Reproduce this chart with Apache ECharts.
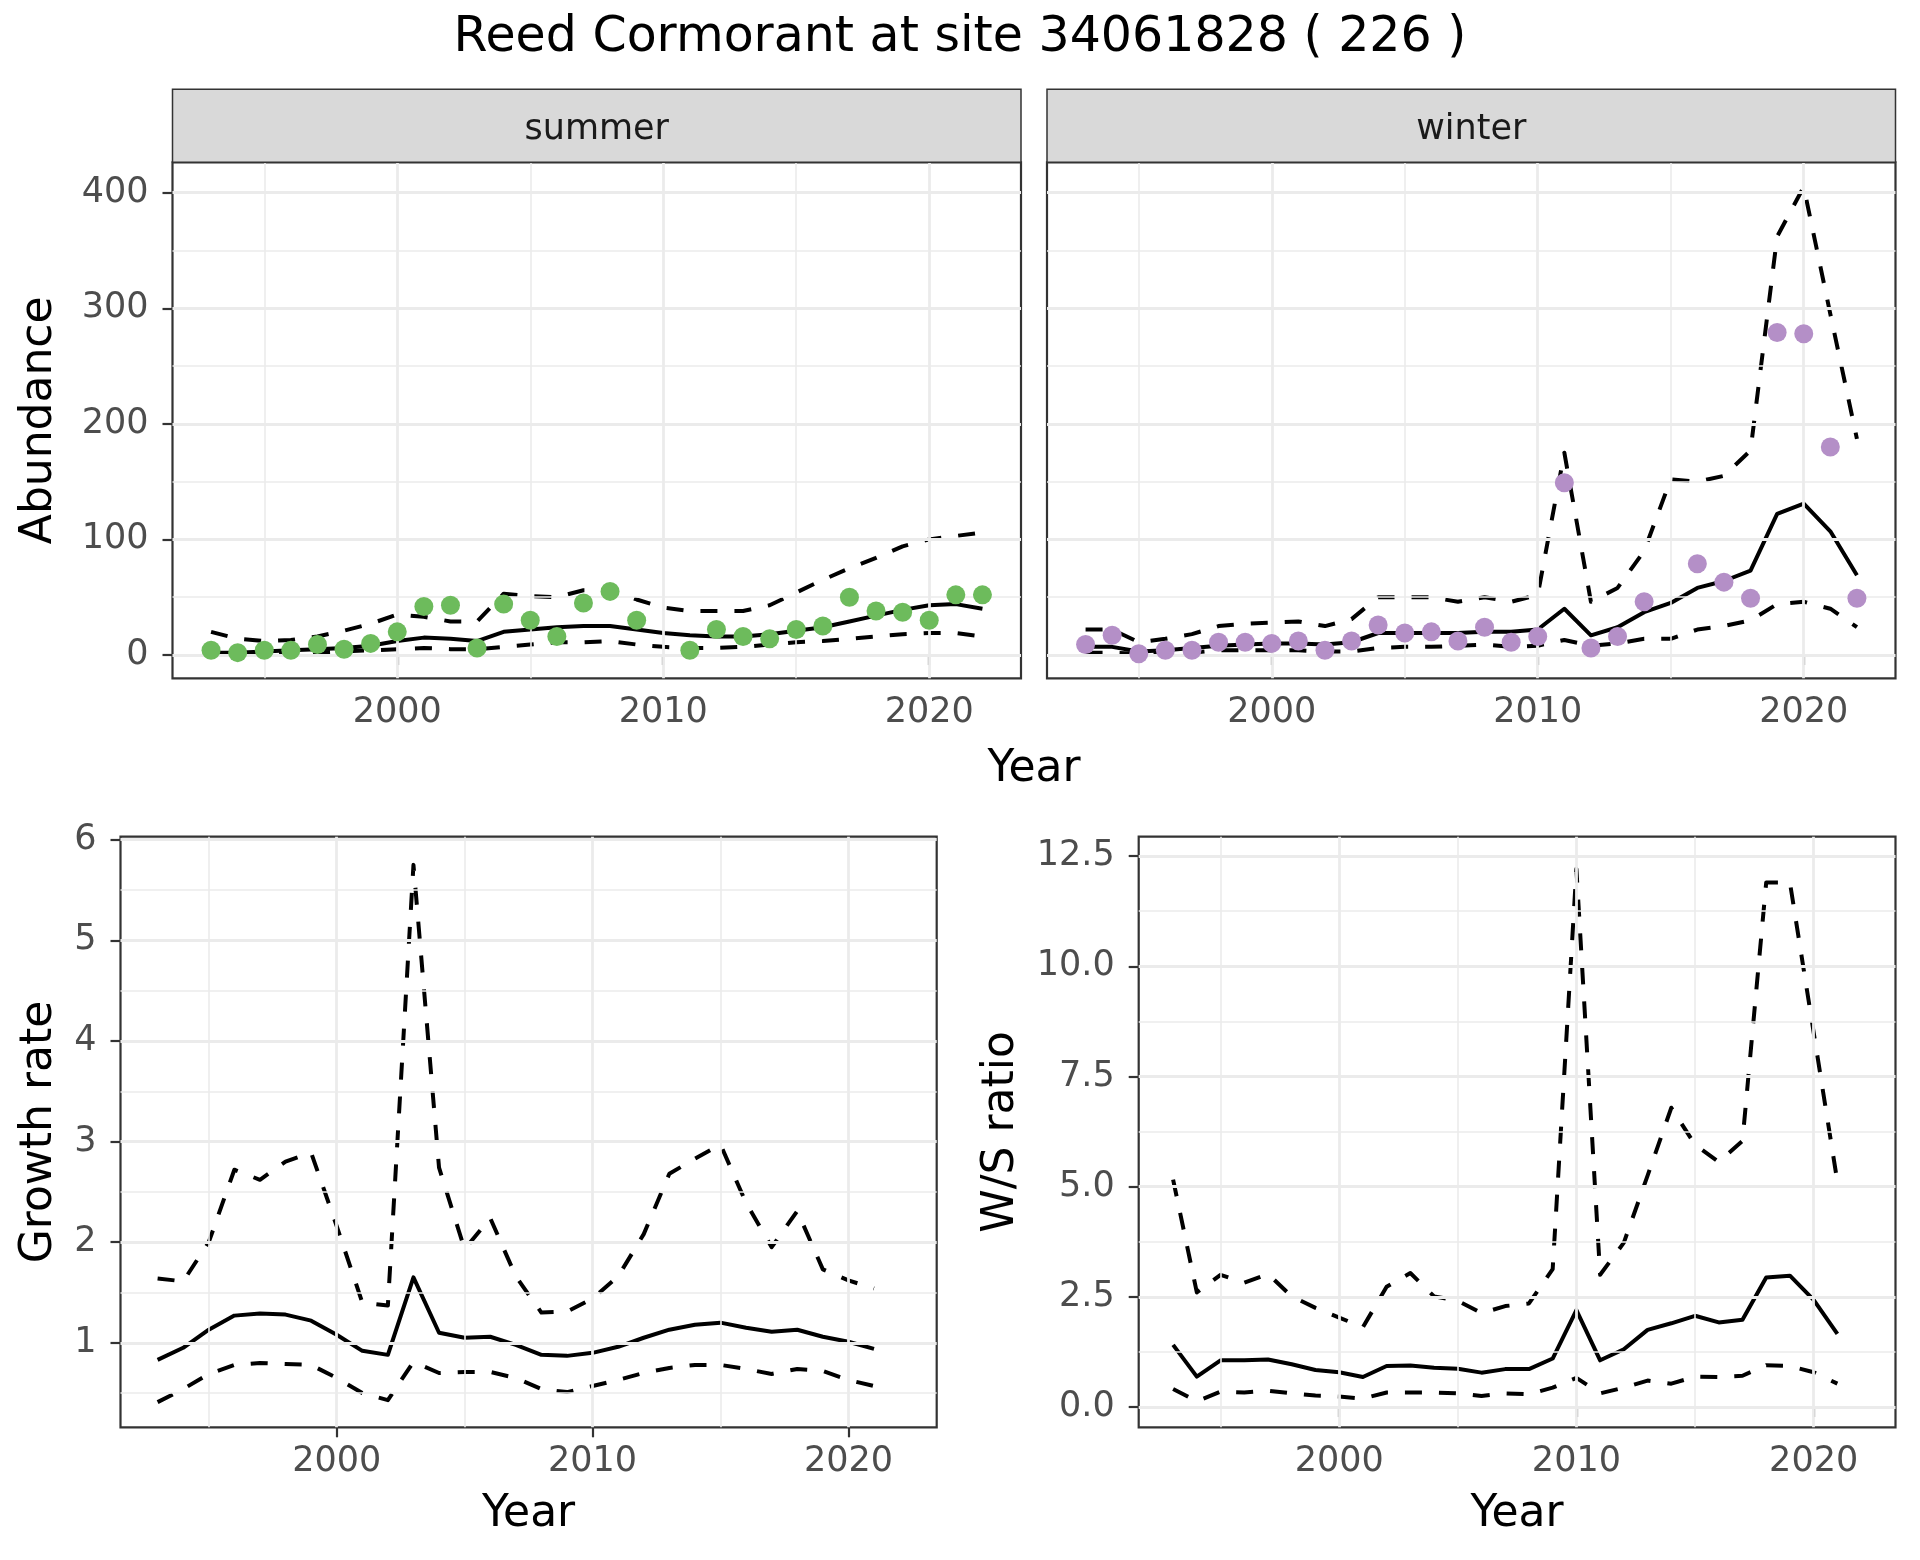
<!DOCTYPE html>
<html>
<head>
<meta charset="utf-8">
<script src="https://cdn.jsdelivr.net/npm/echarts@6/dist/echarts.min.js"></script>
<style>html,body{margin:0;padding:0;background:#fff}#c{width:1920px;height:1560px}</style>
</head>
<body>
<div id="c"></div>
<script>
// ---------- data ----------
const years = [1993,1994,1995,1996,1997,1998,1999,2000,2001,2002,2003,2004,2005,2006,2007,2008,2009,2010,2011,2012,2013,2014,2015,2016,2017,2018,2019,2020,2021,2022];
const summerObs = [4,2,4,4,9,5,10,20,42,43,6,44,30,16,45,55,30,null,4,22,16,14,22,25,50,38,37,30,52,52];
const summerFit = [2,2,3,4,5,6,8,12,15,14,12,20,22,24,25,25,22,19,17,16,16,18,21,24,29,34,39,43,44,40];
const summerUpper = [20,14,12,13,16,21,27,35,33,29,29,53,51,50,56,56,48,41,38,38,38,43,54,65,75,84,94,100,103,106];
const summerLower = [1,1,1,2,2,3,4,5,6,5,5,7,9,11,11,12,9,7,6,6,7,9,11,12,14,16,18,19,19,16];
const winterObs = [9,17,1,4,4,11,11,10,12,4,12,26,19,20,12,24,11,16,149,6,16,46,null,79,63,49,279,278,180,49];
const winterFit = [7,7,3,4,6,8,9,10,10,9,11,19,19,19,19,20,20,22,40,17,24,37,45,58,64,73,122,131,107,69];
const winterUpper = [22,22,11,14,18,25,27,28,29,25,31,50,50,50,46,50,46,52,175,46,58,90,152,150,155,177,362,405,295,187];
const winterLower = [2,2,1,2,2,4,4,4,4,3,3,6,7,7,8,9,7,8,13,8,10,14,14,22,25,30,44,46,40,24];

const rateYears = [1993,1994,1995,1996,1997,1998,1999,2000,2001,2002,2003,2004,2005,2006,2007,2008,2009,2010,2011,2012,2013,2014,2015,2016,2017,2018,2019,2020,2021];
const growthFit = [0.83,0.95,1.13,1.27,1.29,1.28,1.22,1.08,0.92,0.88,1.65,1.10,1.05,1.06,0.98,0.88,0.87,0.90,0.96,1.05,1.13,1.18,1.20,1.15,1.11,1.13,1.06,1.01,0.94];
const growthUpper = [1.64,1.61,2.00,2.72,2.62,2.80,2.89,2.16,1.40,1.37,5.75,2.74,1.93,2.24,1.66,1.30,1.31,1.44,1.66,2.08,2.68,2.83,2.97,2.39,1.95,2.31,1.73,1.62,1.54];
const growthLower = [0.41,0.54,0.69,0.78,0.80,0.79,0.78,0.65,0.50,0.43,0.81,0.70,0.71,0.71,0.65,0.54,0.51,0.57,0.63,0.70,0.75,0.78,0.78,0.74,0.69,0.74,0.72,0.63,0.57];
const wsFit = [1.41,0.69,1.06,1.06,1.08,0.97,0.84,0.79,0.68,0.93,0.94,0.89,0.87,0.78,0.86,0.86,1.10,2.20,1.06,1.31,1.75,1.90,2.07,1.92,1.98,2.94,2.98,2.43,1.66];
const wsUpper = [5.16,2.60,3.00,2.82,3.02,2.51,2.25,2.03,1.81,2.73,3.04,2.51,2.41,2.13,2.29,2.35,3.13,12.21,3.00,3.73,5.25,6.79,5.95,5.56,6.04,11.90,11.90,8.50,5.11];
const wsLower = [0.41,0.13,0.35,0.33,0.37,0.31,0.26,0.24,0.19,0.33,0.33,0.33,0.31,0.25,0.31,0.29,0.44,0.66,0.31,0.44,0.60,0.53,0.69,0.68,0.71,0.95,0.93,0.79,0.53];

// ticks / breaks
const yearTicks = [2000,2010,2020];
const yearMinor = [1995,2005,2015];
const abundTicks = [0,100,200,300,400];
const abundMinor = [50,150,250,350];
const growthTicks = [1,2,3,4,5,6];
const growthMinor = [0.5,1.5,2.5,3.5,4.5,5.5];
const wsTicks = [0,2.5,5,7.5,10,12.5];
const wsMinor = [1.25,3.75,6.25,8.75,11.25];

const titleText = 'Reed Cormorant at site 34061828 ( 226 )';
const seasons = ['summer','winter'];

// ---------- styling ----------
const FONT = 'DejaVu Sans';
const GRIDC = '#EBEBEB';
const BORDER = '#333333';
const xRange = [1991.55, 2023.45];
const abundRange = [-20.2, 426.3];
const growthRange = [0.16, 6.03];
const wsRange = [-0.46, 12.94];

const grids = [
  {left:172.5, top:162.3, width:848.5, height:516},
  {left:1047, top:162.3, width:848.5, height:516},
  {left:120.5, top:836.7, width:816.2, height:590.6},
  {left:1138.7, top:836.7, width:756.8, height:590.6}
];

function xAxisDef(gi){
  return {type:'value', gridIndex:gi, min:xRange[0], max:xRange[1],
    axisLine:{show:false},
    axisTick:{show:true, customValues:yearTicks, length:10, lineStyle:{color:BORDER, width:2.2}},
    axisLabel:{show:true, customValues:yearTicks, margin:17, fontSize:35, color:'#4D4D4D', fontFamily:FONT, formatter:v=>String(v)},
    splitLine:{show:false}, minorSplitLine:{show:false}};
}
function yAxisDef(gi, range, ticks, showLab, fmt){
  return {type:'value', gridIndex:gi, min:range[0], max:range[1],
    axisLine:{show:false},
    axisTick:{show:showLab, customValues:ticks, length:10, lineStyle:{color:BORDER, width:2.2}},
    axisLabel:{show:showLab, customValues:ticks, margin:24, fontSize:35, color:'#4D4D4D', fontFamily:FONT, formatter:fmt},
    splitLine:{show:false}};
}
function gridLines(gi, yMaj, yMin){
  const d = [];
  yearMinor.forEach(v=>d.push({xAxis:v, lineStyle:{color:GRIDC, width:1.6, type:'solid'}}));
  yMin.forEach(v=>d.push({yAxis:v, lineStyle:{color:GRIDC, width:1.6, type:'solid'}}));
  yearTicks.forEach(v=>d.push({xAxis:v, lineStyle:{color:GRIDC, width:2.8, type:'solid'}}));
  yMaj.forEach(v=>d.push({yAxis:v, lineStyle:{color:GRIDC, width:2.8, type:'solid'}}));
  return {type:'line', xAxisIndex:gi, yAxisIndex:gi, data:[], z:1, silent:true,
    markLine:{silent:true, symbol:['none','none'], label:{show:false}, animation:false,
      emphasis:{disabled:true}, lineStyle:{type:'solid', color:GRIDC}, data:d}};
}
function lineS(gi, xs, ys, dashed){
  return {type:'line', xAxisIndex:gi, yAxisIndex:gi, data:xs.map((x,i)=>[x,ys[i]]),
    showSymbol:false, symbol:'none', silent:true, z:3,
    lineStyle:{color:'#000', width:4, type:dashed?[17,17]:'solid', cap:'butt', join:'round'}};
}
function pointS(gi, xs, ys, color){
  const d = [];
  xs.forEach((x,i)=>{ if (ys[i] !== null) d.push([x, ys[i]]); });
  return {type:'scatter', xAxisIndex:gi, yAxisIndex:gi, data:d, symbolSize:19, silent:true, z:5,
    itemStyle:{color:color, opacity:1}};
}

const series = [
  gridLines(0, abundTicks, abundMinor),
  gridLines(1, abundTicks, abundMinor),
  gridLines(2, growthTicks, growthMinor),
  gridLines(3, wsTicks, wsMinor),
  lineS(0, years, summerUpper, true), lineS(0, years, summerLower, true), lineS(0, years, summerFit, false),
  pointS(0, years, summerObs, '#6DBB5C'),
  lineS(1, years, winterUpper, true), lineS(1, years, winterLower, true), lineS(1, years, winterFit, false),
  pointS(1, years, winterObs, '#B48FC7'),
  lineS(2, rateYears, growthUpper, true), lineS(2, rateYears, growthLower, true), lineS(2, rateYears, growthFit, false),
  lineS(3, rateYears, wsUpper, true), lineS(3, rateYears, wsLower, true), lineS(3, rateYears, wsFit, false)
];

function txt(x, y, s, size, color, rot){
  return {type:'text', x:x, y:y, rotation:rot||0, z:20, silent:true,
    style:{text:s, fontSize:size, fontFamily:FONT, fill:color, align:'center', verticalAlign:'middle'}};
}
const graphics = [];
// strips
[0,1].forEach(i=>{
  const g = grids[i];
  graphics.push({type:'rect', z:10, silent:true,
    shape:{x:g.left, y:89.3, width:g.width, height:g.top-89.3},
    style:{fill:'#D9D9D9', stroke:BORDER, lineWidth:1.5}});
  graphics.push(txt(g.left+g.width/2, 129.5, seasons[i], 35, '#1A1A1A'));
});
graphics.push(txt(960, 38.5, titleText, 49, '#000'));
graphics.push(txt(1034, 770, 'Year', 44, '#000'));
graphics.push(txt(528.6, 1515, 'Year', 44, '#000'));
graphics.push(txt(1517, 1515, 'Year', 44, '#000'));
graphics.push(txt(40, 420.3, 'Abundance', 44, '#000', Math.PI/2));
graphics.push(txt(40, 1132, 'Growth rate', 44, '#000', Math.PI/2));
graphics.push(txt(1001.6, 1132, 'W/S ratio', 44, '#000', Math.PI/2));

const chart = echarts.init(document.getElementById('c'), null, {renderer:'canvas'});
chart.setOption({
  animation:false,
  backgroundColor:'#fff',
  textStyle:{fontFamily:FONT},
  grid: grids.map(g=>Object.assign({show:true, borderColor:BORDER, borderWidth:2.2, backgroundColor:'#fff', containLabel:false, outerBoundsMode:'none'}, g)),
  xAxis:[xAxisDef(0), xAxisDef(1), xAxisDef(2), xAxisDef(3)],
  yAxis:[
    yAxisDef(0, abundRange, abundTicks, true, v=>String(v)),
    yAxisDef(1, abundRange, abundTicks, false, v=>String(v)),
    yAxisDef(2, growthRange, growthTicks, true, v=>String(v)),
    yAxisDef(3, wsRange, wsTicks, true, v=>v.toFixed(1))
  ],
  series: series,
  graphic: graphics
});
</script>
</body>
</html>
